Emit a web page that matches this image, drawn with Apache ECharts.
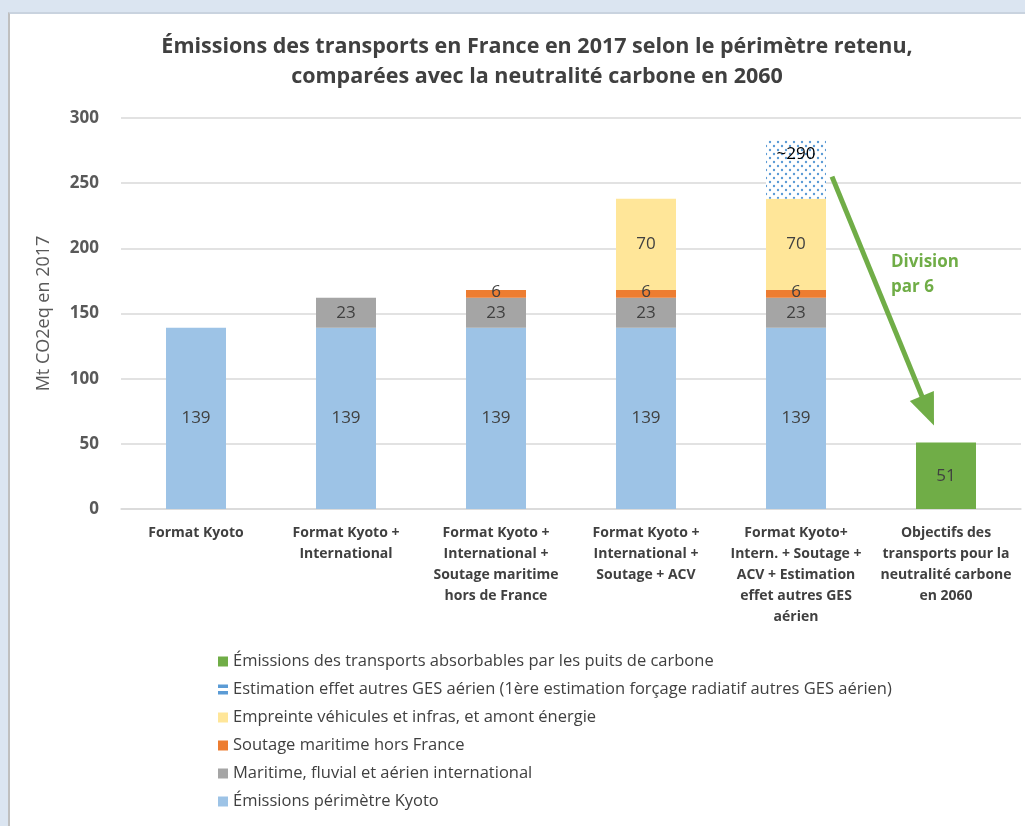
<!DOCTYPE html>
<html><head><meta charset="utf-8">
<script src="https://cdn.jsdelivr.net/npm/echarts@6/dist/echarts.min.js"></script>
<style>
html,body{margin:0;padding:0;background:#dbe5f1;width:1025px;height:826px;overflow:hidden}
#panel{position:absolute;left:8px;top:12px;width:1100px;height:900px;background:#fff;border-left:2px solid #bfbfbf;border-top:2px solid #c9d3df}
#c{position:absolute;left:0;top:0;width:1025px;height:826px}
</style></head>
<body><div id="panel"></div><div id="c"></div>
<script>
const categories = [
  "Format Kyoto",
  "Format Kyoto +\nInternational",
  "Format Kyoto +\nInternational +\nSoutage maritime\nhors de France",
  "Format Kyoto +\nInternational +\nSoutage + ACV",
  "Format Kyoto+\nIntern. + Soutage +\nACV + Estimation\neffet autres GES\naérien",
  "Objectifs des\ntransports pour la\nneutralité carbone\nen 2060"
];
const kyoto      = [139, 139, 139, 139, 139, '-'];
const intl       = ['-', 23, 23, 23, 23, '-'];
const soutage    = ['-', '-', 6, 6, 6, '-'];
const empreinte  = ['-', '-', '-', 70, 70, '-'];
const estimation = ['-', '-', '-', '-', 45, '-'];
const neutralite = ['-', '-', '-', '-', '-', 51];
const estimationLabel = "~290";
const yTicks = [0, 50, 100, 150, 200, 250, 300];
const names = {
  green: "Émissions des transports absorbables par les puits de carbone",
  est: "Estimation effet autres GES aérien (1ère estimation forçage radiatif autres GES aérien)",
  yellow: "Empreinte véhicules et infras, et amont énergie",
  orange: "Soutage maritime hors France",
  gray: "Maritime, fluvial et aérien international",
  blue: "Émissions périmètre Kyoto"
};
// arrow annotation anchors (category index, value)
const arrowFrom = [4, 255];
const arrowTo = [5, 64];

const FONT = "'Open Sans',sans-serif";
const TXT = '#404040';
const chart = echarts.init(document.getElementById('c'), null, {renderer:'canvas'});
const lbl = (extra) => Object.assign({show:true, position:'inside', color:TXT, fontSize:17, fontFamily:FONT}, extra||{});
const base = {type:'bar', stack:'s', barWidth:60};
const option = {
  animation:false,
  textStyle:{fontFamily:FONT},
  title:{
    text:"Émissions des transports en France en 2017 selon le périmètre retenu,\ncomparées avec la neutralité carbone en 2060",
    left:532, textAlign:'center', top:27,
    textStyle:{fontSize:21.5, fontWeight:'bold', color:'#404040', lineHeight:30, fontFamily:FONT}
  },
  grid:{left:121, right:4, top:118, bottom:317},
  legend:{
    orient:'vertical', left:213, top:648, itemGap:11, itemWidth:10, itemHeight:10,
    textStyle:{fontSize:16.5, color:TXT, fontFamily:FONT},
    data:[
      {name:names.green, icon:'rect'},
      {name:names.est, icon:'path://M0,0H10V3.5H0ZM0,6.5H10V10H0Z', itemStyle:{color:'#5b9bd5', decal:'none'}},
      {name:names.yellow, icon:'rect'},
      {name:names.orange, icon:'rect'},
      {name:names.gray, icon:'rect'},
      {name:names.blue, icon:'rect'}
    ]
  },
  xAxis:{
    type:'category', data:categories,
    axisTick:{show:false},
    axisLine:{lineStyle:{color:'#d9d9d9', width:1.5}},
    axisLabel:{interval:0, color:TXT, fontSize:14, fontWeight:'bold', lineHeight:21, margin:14, fontFamily:FONT}
  },
  yAxis:{
    type:'value', min:0, max:300, interval:50,
    name:'Mt CO2eq en 2017', nameLocation:'middle', nameGap:68,
    nameTextStyle:{fontSize:18, color:'#595959', fontFamily:FONT},
    axisLabel:{color:'#595959', fontSize:17, fontWeight:'bold', margin:22, fontFamily:FONT,
      formatter:(v)=> yTicks.includes(v) ? String(v) : ''},
    splitLine:{lineStyle:{color:'#d9d9d9', width:1.5}},
    axisLine:{show:false}, axisTick:{show:false}
  },
  series:[
    Object.assign({}, base, {name:names.blue, data:kyoto, itemStyle:{color:'#9dc3e6'}, label:lbl()}),
    Object.assign({}, base, {name:names.gray, data:intl, itemStyle:{color:'#a5a5a5'}, label:lbl()}),
    Object.assign({}, base, {name:names.orange, data:soutage, itemStyle:{color:'#ed7d31'}, label:lbl({position:'inside', offset:[0,-2]})}),
    Object.assign({}, base, {name:names.yellow, data:empreinte, itemStyle:{color:'#ffe699'}, label:lbl()}),
    Object.assign({}, base, {name:names.est, data:estimation,
      itemStyle:{color:'#ffffff', decal:{symbol:'circle', symbolSize:0.6, color:'#5b9bd5', dashArrayX:[[4,4],[0,4,4,0]], dashArrayY:[3.5,0], rotation:0}},
      label:lbl({position:'insideTop', distance:5, color:'#000', formatter:()=>estimationLabel})}),
    Object.assign({}, base, {name:names.green, data:neutralite, itemStyle:{color:'#70ad47'}, label:lbl()})
  ]
};
chart.setOption(option);

function drawArrow(){
  const p0 = chart.convertToPixel({gridIndex:0}, arrowFrom);
  const p1 = chart.convertToPixel({gridIndex:0}, arrowTo);
  const x0 = p0[0] + 36, y0 = p0[1];
  const x1 = p1[0] - 12, y1 = p1[1];
  const dx = x1 - x0, dy = y1 - y0, L = Math.hypot(dx, dy);
  const ux = dx/L, uy = dy/L, nx = -uy, ny = ux;
  const headL = 32, headW = 13;
  const bx = x1 - ux*headL, by = y1 - uy*headL;
  chart.setOption({graphic:[
    {type:'line', shape:{x1:x0, y1:y0, x2:bx+ux*2, y2:by+uy*2}, style:{stroke:'#70ad47', lineWidth:5}, z:100},
    {type:'polygon', shape:{points:[[x1,y1],[bx+nx*headW,by+ny*headW],[bx-nx*headW,by-ny*headW]]}, style:{fill:'#70ad47'}, z:100},
    {type:'text', x:p1[0]-55, y:p0[1]+73, style:{text:'Division\npar 6', fill:'#70ad47', font:"bold 17px 'Open Sans',sans-serif", lineHeight:25}, z:100}
  ]});
}
drawArrow();
</script></body></html>
